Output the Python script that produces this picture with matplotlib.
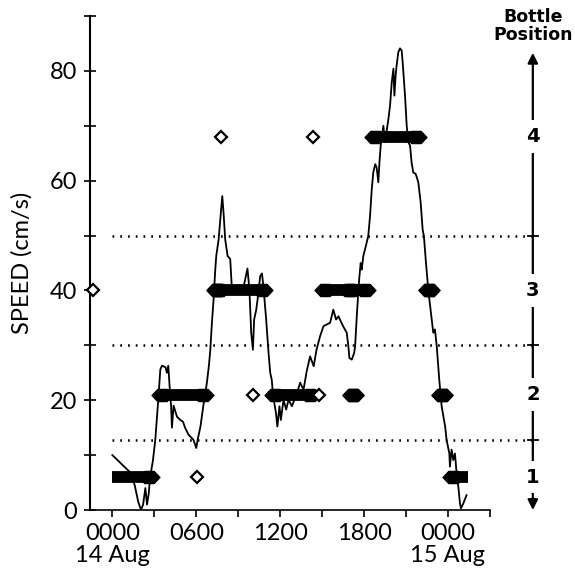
import numpy as np
import matplotlib.pyplot as plt
from matplotlib.path import Path

plt.rcParams['font.family'] = ['Lato', 'DejaVu Sans']
plt.rcParams['font.size'] = 17

# current speed record (hours from 0000 14 Aug, cm/s)
hours = [0, 1.3, 1.6, 1.85, 2.05, 2.2, 2.36, 2.48, 2.6, 2.7, 2.9, 3.07, 3.3, 3.43, 3.55,
         3.8, 3.9, 4.0, 4.14, 4.2, 4.26, 4.38, 4.62, 4.86, 5.05, 5.2, 5.45, 5.8, 6.0, 6.1,
         6.3, 6.5, 6.65, 6.76, 6.9, 7.0, 7.12, 7.24, 7.36, 7.43, 7.6, 7.76, 7.86, 7.95, 8.07,
         8.24, 8.43, 8.55, 8.8, 9.1, 9.4, 9.66, 9.8, 9.93, 10.05, 10.14, 10.29, 10.45, 10.57,
         10.7, 10.8, 11.0, 11.17, 11.29, 11.4, 11.5, 11.7, 11.8, 11.95, 12.05, 12.24, 12.43,
         12.6, 12.84, 13.2, 13.43, 13.67, 13.9, 14.14, 14.4, 14.6, 14.86, 15.1, 15.33, 15.57,
         15.8, 16.0, 16.17, 16.33, 16.5, 16.76, 16.88, 16.95, 17.12, 17.29, 17.36, 17.48,
         17.6, 17.67, 17.76, 17.83, 17.95, 18.07, 18.3, 18.43, 18.55, 18.66, 18.8, 18.9,
         19.02, 19.1, 19.19, 19.38, 19.5, 19.6, 19.74, 19.86, 19.98, 20.1, 20.17, 20.26,
         20.33, 20.45, 20.57, 20.69, 20.76, 20.93, 21.05, 21.17, 21.29, 21.4, 21.52, 21.7,
         21.88, 22.05, 22.19, 22.28, 22.43, 22.6, 22.84, 22.95, 23.07, 23.2, 23.38, 23.55,
         23.8, 23.9, 24.1, 24.14, 24.26, 24.38, 24.5, 24.62, 24.74, 24.86, 24.93, 25.1, 25.33]
speed = [10, 6.8, 4.5, 1.5, 0, 1, 4, 1, 3, 6, 9, 12.8, 20.7, 25.6, 26.3,
         26, 25, 26.3, 20.7, 19, 15, 19, 17, 16.4, 16.1, 15, 13.7, 12.8, 11.3, 12.8,
         15.2, 18.9, 21.3, 23.2, 26.2, 29, 34.1, 38.4, 43.8, 46.3, 49.3, 54.2, 57.2, 54.2, 49.3,
         46.3, 45.7, 40.2, 40.5, 40.3, 40.8, 44, 40.2, 32.3, 29.2, 34.7, 36.5, 39.6, 42.6,
         43.1, 40.8, 34.7, 28.6, 25, 23.7, 20.7, 17.7, 15.2, 18.9, 16.4, 20.1, 18.3,
         20.1, 18.9, 21.3, 23.2, 21.9, 25.3, 28, 26.2, 29.2, 31.7, 33.5, 33.8, 34.1,
         36.5, 34.7, 35.3, 34.4, 33.5, 32.3, 29.8, 27.7, 27.4, 28.6, 29.8, 35.3,
         40.2, 42.6, 45, 43.8, 46.3, 47.5, 49.9, 53.6, 58.4, 61.5, 63, 62.4,
         59.7, 63.3, 66.4, 70, 67, 68.8, 71.2, 73.7, 77.9, 80.4, 75.5, 79.2,
         81, 83.4, 84.1, 83.7, 81.6, 75.5, 70, 67, 66.4, 63.3, 61.5, 61.2,
         59.7, 56, 51.1, 49.9, 45, 39.9, 34.7, 32.3, 32.9, 29.8, 23.7, 18.9,
         15.2, 12.8, 10.3, 7.9, 11, 9.1, 10.3, 6.7, 4.3, 1.2, 0.3, 1.2, 2.7]

# bottle positions (speed level on the same scale)
bottle_levels = [6, 21, 40, 68]
bottle_labels = ['1', '2', '3', '4']
thresholds = [12.7, 30, 50]

# sampled bottle positions: (level, first hour, last hour)
bar_level = [6, 21, 40, 40, 21, 40, 40, 21, 68, 40, 21, 6]
bar_start = [0.0, 3.57, 7.45, 7.65, 11.6, 15.2, 17.1, 17.18, 18.78, 22.64, 23.6, 24.35]
bar_end = [2.65, 6.5, 7.45, 10.72, 14.1, 16.9, 18.1, 17.18, 21.7, 22.64, 23.6, 25.43]

# single open-diamond samples
open_hours = [-1.36, 6.07, 7.8, 10.07, 14.36, 14.8]
open_levels = [40, 6, 68, 21, 68, 21]

fig = plt.figure(figsize=(5.75, 5.71), dpi=100)
ax = fig.add_axes([0.1565, 0.1068, 0.6955, 0.8652])

hexm = Path([(-1, 0), (-0.45, 0.58), (0.45, 0.58), (1, 0), (0.45, -0.58), (-0.45, -0.58), (-1, 0)],
            [Path.MOVETO] + [Path.LINETO] * 5 + [Path.CLOSEPOLY])

for lvl, t0, t1 in zip(bar_level, bar_start, bar_end):
    ax.plot([t0, t1], [lvl, lvl], color='k', lw=8.5, solid_capstyle='butt', zorder=3)
    if lvl == 6 and t0 == 0.0:
        ends = [t1]
    elif lvl == 6:
        ends = [t0]
    else:
        ends = [t0, t1]
    ax.plot(ends, [lvl] * len(ends), ls='none', marker=hexm, ms=15, color='k', zorder=3)

ax.plot(open_hours, open_levels, ls='none', marker='D', ms=6, mfc='white', mec='k',
        mew=1.6, zorder=4, clip_on=False)

ax.plot(hours, speed, color='k', lw=1.3, zorder=5)

for th in thresholds:
    ax.plot([0, 30.07], [th, th], color='k', lw=1.8, ls=(0, (0.7, 2.4)), clip_on=False)
    ax.plot([29.7, 30.45], [th, th], color='k', lw=1.3, clip_on=False)

# bottle position scale on the right
ax.annotate('', xy=(30.07, 83.8), xytext=(30.07, 40), annotation_clip=False,
            arrowprops=dict(arrowstyle='-|>', color='k', lw=1.6, mutation_scale=15))
ax.annotate('', xy=(30.07, -0.5), xytext=(30.07, 40), annotation_clip=False,
            arrowprops=dict(arrowstyle='-|>', color='k', lw=1.6, mutation_scale=15))
for lvl, lab in zip(bottle_levels, bottle_labels):
    ax.text(30.07, lvl, lab, ha='center', va='center', fontsize=14, fontweight='black',
            family='DejaVu Sans', clip_on=False,
            bbox=dict(boxstyle='square,pad=0.35', fc='white', ec='none'))
ax.text(30.1, 88.2, 'Bottle\nPosition', ha='center', va='center', fontsize=12.5,
        fontweight='black', family='DejaVu Sans', linespacing=1.05, clip_on=False)

ax.set_xlim(-1.6, 27)
ax.set_ylim(0, 90)
ax.set_xticks([0, 6, 12, 18, 24])
ax.set_xticklabels(['0000\n14 Aug', '0600', '1200', '1800', '0000\n15 Aug'], linespacing=1.1)
ax.set_xticks([3, 9, 15, 21, 27], minor=True)
ax.set_yticks([0, 20, 40, 60, 80])
ax.set_yticks([10, 30, 50, 70, 90], minor=True)
ax.tick_params(axis='x', which='both', direction='out', length=5, width=1.2, pad=4)
ax.tick_params(axis='y', which='both', direction='inout', length=9, width=1.2, pad=5)
ax.set_ylabel('SPEED (cm/s)', labelpad=12)

for s in ['top', 'right']:
    ax.spines[s].set_visible(False)
ax.spines['left'].set_linewidth(1.5)
ax.spines['bottom'].set_linewidth(1.2)

fig.savefig('out.png', dpi=100)
